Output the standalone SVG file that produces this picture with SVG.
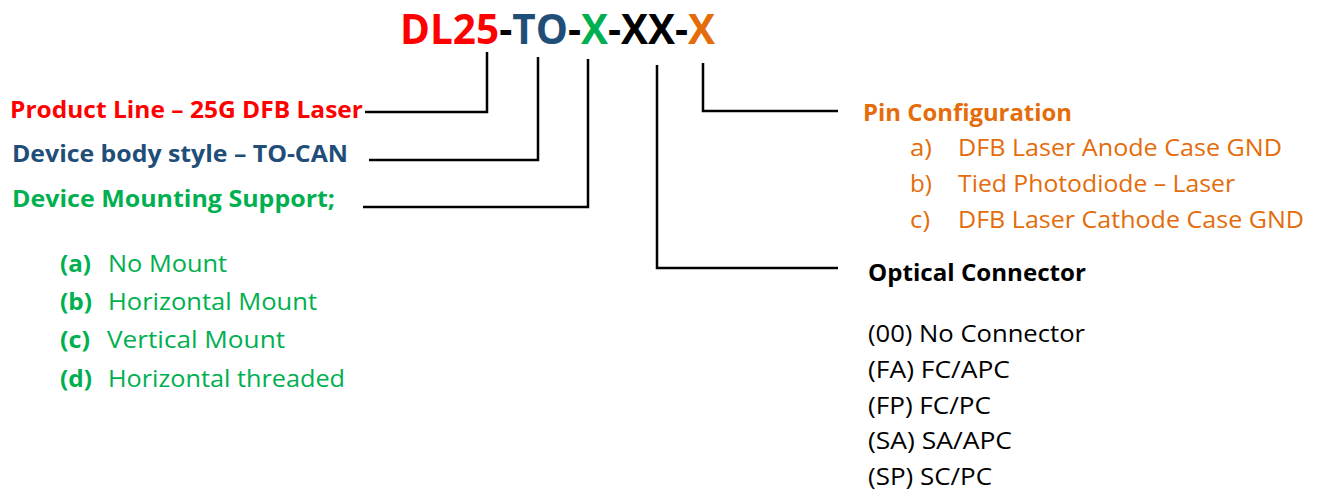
<svg xmlns="http://www.w3.org/2000/svg" width="1324" height="493" viewBox="0 0 1324 493">
<style>
text{font-family:"Open Sans","Noto Sans","Liberation Sans",sans-serif;}
.b{font-weight:bold;}
.t{font-weight:bold;font-size:40.5px;}
.lbl{font-size:23.5px;}
.itm{font-size:24px;}
.red{fill:#FF0000;}
.blue{fill:#1F4E79;}
.green{fill:#00B050;}
.orange{fill:#E46C0A;}
.black{fill:#000000;}
.conn{fill:none;stroke:#000;stroke-width:2.5;}
</style>
<rect width="1324" height="493" fill="#fff"/>
<g id="title">
<text x="400" y="44" class="t"><tspan class="red">DL25</tspan><tspan class="black">-</tspan><tspan class="blue">TO</tspan><tspan class="black">-</tspan><tspan class="green">X</tspan><tspan class="black">-XX-</tspan><tspan class="orange">X</tspan></text>
</g>
<g id="connectors">
<path class="conn" d="M365,112 H487 V52"/>
<path class="conn" d="M369,160 H538 V57"/>
<path class="conn" d="M363,207 H588 V59"/>
<path class="conn" d="M657,65 V268 H838"/>
<path class="conn" d="M703,63 V111 H838"/>
</g>
<g id="product-line">
<text x="10" y="118" class="b lbl red" textLength="353" lengthAdjust="spacingAndGlyphs">Product Line – 25G DFB Laser</text>
</g>
<g id="body-style">
<text x="12" y="162" class="b lbl blue" textLength="336" lengthAdjust="spacingAndGlyphs">Device body style – TO-CAN</text>
</g>
<g id="mounting">
<text x="12" y="207" class="b lbl green" textLength="323" lengthAdjust="spacingAndGlyphs">Device Mounting Support;</text>
<text x="60" y="272" class="b itm green" textLength="31" lengthAdjust="spacingAndGlyphs">(a)</text>
<text x="108" y="272" class="itm green" textLength="119" lengthAdjust="spacingAndGlyphs">No Mount</text>
<text x="60" y="310" class="b itm green" textLength="32" lengthAdjust="spacingAndGlyphs">(b)</text>
<text x="108" y="310" class="itm green" textLength="209" lengthAdjust="spacingAndGlyphs">Horizontal Mount</text>
<text x="60" y="348" class="b itm green" textLength="30" lengthAdjust="spacingAndGlyphs">(c)</text>
<text x="107" y="348" class="itm green" textLength="178" lengthAdjust="spacingAndGlyphs">Vertical Mount</text>
<text x="60" y="387" class="b itm green" textLength="32" lengthAdjust="spacingAndGlyphs">(d)</text>
<text x="108" y="387" class="itm green" textLength="237" lengthAdjust="spacingAndGlyphs">Horizontal threaded</text>
</g>
<g id="pin-config">
<text x="863" y="121" class="b lbl orange" textLength="209" lengthAdjust="spacingAndGlyphs">Pin Configuration</text>
<text x="910" y="156" class="itm orange" textLength="22" lengthAdjust="spacingAndGlyphs">a)</text>
<text x="958" y="156" class="itm orange" textLength="324" lengthAdjust="spacingAndGlyphs">DFB Laser Anode Case GND</text>
<text x="910" y="192" class="itm orange" textLength="22" lengthAdjust="spacingAndGlyphs">b)</text>
<text x="958" y="192" class="itm orange" textLength="277" lengthAdjust="spacingAndGlyphs">Tied Photodiode – Laser</text>
<text x="910" y="228" class="itm orange" textLength="20" lengthAdjust="spacingAndGlyphs">c)</text>
<text x="958" y="228" class="itm orange" textLength="346" lengthAdjust="spacingAndGlyphs">DFB Laser Cathode Case GND</text>
</g>
<g id="optical-connector">
<text x="868" y="281" class="b lbl black" textLength="218" lengthAdjust="spacingAndGlyphs">Optical Connector</text>
<text x="868" y="342" class="itm black" textLength="217" lengthAdjust="spacingAndGlyphs">(00) No Connector</text>
<text x="868" y="378" class="itm black" textLength="142" lengthAdjust="spacingAndGlyphs">(FA) FC/APC</text>
<text x="868" y="414" class="itm black" textLength="123" lengthAdjust="spacingAndGlyphs">(FP) FC/PC</text>
<text x="868" y="449" class="itm black" textLength="144" lengthAdjust="spacingAndGlyphs">(SA) SA/APC</text>
<text x="868" y="485" class="itm black" textLength="124" lengthAdjust="spacingAndGlyphs">(SP) SC/PC</text>
</g>
</svg>
